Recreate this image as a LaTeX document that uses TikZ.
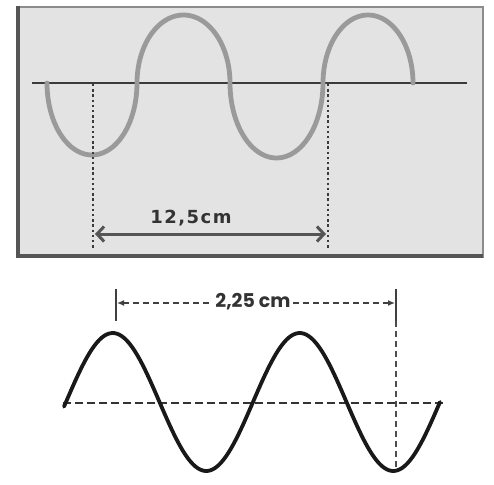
\documentclass[tikz,border=0pt]{standalone}
\usepackage{fontspec}
\usetikzlibrary{arrows.meta}
\newfontfamily\topfont[LetterSpace=8]{DejaVu Sans}
\newfontfamily\botfont{Poppins}
\definecolor{boxfill}{HTML}{E3E3E3}
\definecolor{boxedge}{HTML}{8C8C8C}
\definecolor{boxdark}{HTML}{555555}
\definecolor{wavegrey}{HTML}{9A9A9A}
\definecolor{inkdark}{HTML}{3A3A3A}
\tikzset{
  axisline/.style={line width=2.6pt, draw=inkdark},
  greywave/.style={line width=4.8pt, draw=wavegrey, line cap=round, line join=round},
  dotguide/.style={line width=2.8pt, draw=inkdark, dash pattern=on 2.4pt off 2.8pt},
  dimtop/.style={line width=3pt, draw=boxdark, {Straight Barb[length=7pt,width=15pt,line width=3pt]}-{Straight Barb[length=7pt,width=15pt,line width=3pt]}},
  blackwave/.style={line width=3.8pt, draw=black!90, line cap=round},
  dashaxis/.style={line width=2.4pt, draw=black!80, dash pattern=on 8pt off 4pt},
  tickline/.style={line width=2.2pt, draw=black!75},
  dashguide/.style={line width=2.2pt, draw=black!70, dash pattern=on 6pt off 4pt},
  dimbot/.style={line width=2pt, draw=black!75, dash pattern=on 6pt off 4pt, {Latex[length=7pt,width=6pt]}-{Latex[length=7pt,width=6pt]}},
  toplabel/.style={inner sep=1pt, text=black!80, font=\topfont\bfseries\fontsize{18}{20}\selectfont},
  botlabel/.style={inner sep=2pt, fill=white, text=black!80, font=\botfont\bfseries\fontsize{19}{21}\selectfont}
}
\begin{document}
\begin{tikzpicture}[x=1pt,y=-1pt]
\useasboundingbox (0,0) rectangle (494,484);
% ---------- top panel ----------
\path[fill=boxfill] (18,7) rectangle (483,257);
\draw[line width=1.8pt, draw=boxedge] (18,7) rectangle (483,257);
\draw[line width=4pt, draw=boxdark] (18,6) -- (18,256) -- (483,256);
\coordinate (tA) at (32,83);
\coordinate (tB) at (467,83);
\draw[axisline] (tA) -- (tB);
\draw[greywave]
  plot[domain=0:180, samples=50, variable=\t] ({92-45*cos(\t)},{83+72*sin(\t)})
  -- plot[domain=0:180, samples=50, variable=\t] ({183.5-46.5*cos(\t)},{83-68*sin(\t)})
  -- plot[domain=0:180, samples=50, variable=\t] ({276.5-46.5*cos(\t)},{83+75*sin(\t)})
  -- plot[domain=0:180, samples=50, variable=\t] ({368-45*cos(\t)},{83-68*sin(\t)});
\coordinate (g1t) at (93,84);
\coordinate (g1b) at (93,248);
\coordinate (g2t) at (328,84);
\coordinate (g2b) at (328,248);
\draw[dotguide] (g1t) -- (g1b);
\draw[dotguide] (g2t) -- (g2b);
\coordinate (d1) at (95,234);
\coordinate (d2) at (326,234);
\draw[dimtop] (d1) -- (d2);
\node[toplabel] (lt) at (191,218) {12,5cm};
% ---------- bottom panel ----------
\coordinate (bA) at (63,403);
\coordinate (bB) at (446,403);
\draw[dashaxis] (bA) -- (bB);
\draw[blackwave] plot[domain=64:440, samples=150, variable=\x] ({\x},{402-69*sin(1.925134*(\x-66))});
\coordinate (k1t) at (116,289);
\coordinate (k1b) at (116,321);
\coordinate (k2t) at (396,289);
\coordinate (k2b) at (396,321);
\coordinate (k2e) at (396,470);
\draw[tickline] (k1t) -- (k1b);
\draw[tickline] (k2t) -- (k2b);
\draw[dashguide] (k2b) -- (k2e);
\coordinate (m1) at (117,303);
\coordinate (m2) at (395,303);
\draw[dimbot] (m1) -- (m2);
\node[botlabel] (lb) at (253,302) {2,25 cm};
\end{tikzpicture}
\end{document}
